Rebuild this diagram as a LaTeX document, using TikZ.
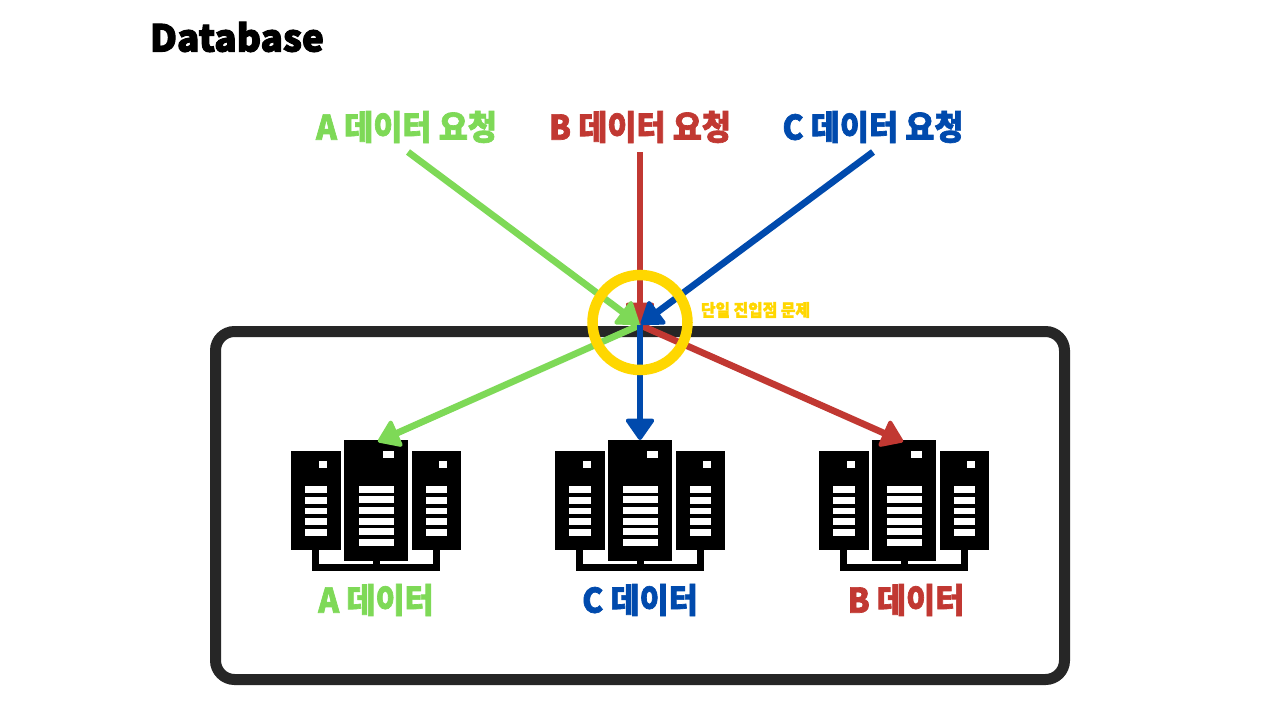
\documentclass[tikz,border=0pt]{standalone}
\usepackage{fontspec}
\usetikzlibrary{arrows.meta}
\newfontfamily\krfont[FakeStretch=0.93,FakeBold=2]{Noto Sans CJK KR Black}
\newfontfamily\titlefont[FakeStretch=1.0,FakeBold=3]{Noto Sans CJK KR Black}
\definecolor{cgreen}{HTML}{7ED957}
\definecolor{cred}{HTML}{C13832}
\definecolor{cblue}{HTML}{004AAD}
\definecolor{cyel}{HTML}{FFD700}
\definecolor{cbox}{HTML}{262626}
\tikzset{
  x=1pt,y=-1pt,
  lab/.style={font=\krfont\fontsize{34}{34}\selectfont,inner sep=0pt},
  dlab/.style={font=\krfont\fontsize{34}{34}\selectfont,inner sep=0pt},
  conn/.style={line width=6.7pt,-{Triangle[round,length=23pt,width=31pt,line width=4pt]},shorten >=1pt},
  server/.pic={
    \fill[black] (291,450.7) rectangle (341,549.7);
    \fill[black] (344.3,440) rectangle (408.3,560.7);
    \fill[black] (412,450.7) rectangle (461.3,549.7);
    \fill[black] (312.3,549.7) rectangle (319.3,571);
    \fill[black] (433,549.7) rectangle (439.7,571);
    \fill[black] (312.3,564.3) rectangle (439.7,571);
    \fill[black] (373,560.7) rectangle (380,571);
    \fill[white] (318.7,461) rectangle (326.7,468);
    \fill[white] (383.3,450.7) rectangle (394,457.7);
    \fill[white] (439.3,461) rectangle (447,468);
    \foreach \yy in {486.3,497,507.7,518.3,529}{
      \fill[white] (305.3,\yy) rectangle (326.7,\yy+6.7);
      \fill[white] (426,\yy) rectangle (447,\yy+6.7);
    }
    \foreach \yy in {485.7,496.4,507,517.7,528.4,539}{
      \fill[white] (358.7,\yy) rectangle (394,\yy+7);
    }
  }
}
\begin{document}
\begin{tikzpicture}
\useasboundingbox (0,0) rectangle (1280,720);
\fill[white] (0,0) rectangle (1280,720);
\node[font=\titlefont\fontsize{37}{37}\selectfont,inner sep=0pt,anchor=center] (title) at (237,37) {Database};
\draw[cbox,line width=11pt,rounded corners=19pt] (215.5,331.5) rectangle (1064.5,679.5);
\pic at (0,0) {server};
\pic at (264,0) {server};
\pic at (528,0) {server};
\node[lab,text=cgreen] (reqA) at (406.5,127) {A 데이터 요청};
\node[lab,text=cred] (reqB) at (640,127) {B 데이터 요청};
\node[lab,text=cblue] (reqC) at (873,127) {C 데이터 요청};
\node[dlab,text=cgreen] (datA) at (376,600) {A 데이터};
\node[dlab,text=cblue] (datC) at (640,600) {C 데이터};
\node[dlab,text=cred] (datB) at (906,600) {B 데이터};
\node[font=\krfont\fontsize{17}{17}\selectfont,text=cyel,inner sep=0pt] (spof) at (755.5,310) {단일 진입점 문제};
\coordinate (hub) at (640,325);
\coordinate (fromA) at (408,152);
\coordinate (fromB) at (640,152);
\coordinate (fromC) at (873,152);
\coordinate (toA) at (377,442);
\coordinate (toC) at (640,441);
\coordinate (toB) at (904,442);
\draw[conn,cred] (hub) -- (toB);
\draw[conn,cgreen] (hub) -- (toA);
\draw[conn,cred] (fromB) -- (hub);
\draw[conn,cgreen] (fromA) -- (hub);
\draw[conn,cblue] (fromC) -- (hub);
\draw[conn,cblue] (hub) -- (toC);
\node[draw=cyel,line width=10.5pt,circle,minimum size=95pt,inner sep=0pt,fill=none] (ring) at (640,322.5) {};
\end{tikzpicture}
\end{document}
